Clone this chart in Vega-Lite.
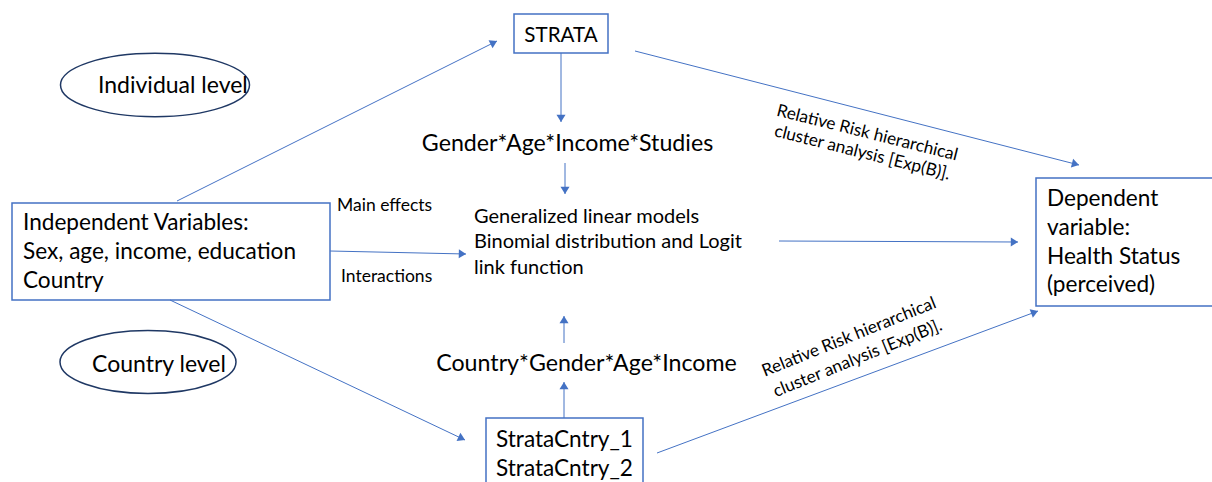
{
  "$schema": "https://vega.github.io/schema/vega-lite/v6.json",
  "width": 1212,
  "height": 482,
  "autosize": {"type": "fit", "contains": "padding"},
  "padding": 0,
  "background": "white",
  "config": {"view": {"stroke": null}, "text": {"font": "Lato", "color": "#000000"}},
  "datasets": {
    "boxes": [
      {"node": "STRATA", "x": 514, "x2": 608, "y": 14, "y2": 53},
      {"node": "Independent", "x": 12, "x2": 330, "y": 203, "y2": 300},
      {"node": "Dependent", "x": 1036, "x2": 1216, "y": 178, "y2": 306},
      {"node": "StrataCntry", "x": 486, "x2": 643, "y": 418, "y2": 490}
    ],
    "ellipses": [
      {"node": "Individual level", "x": 155, "y": 85},
      {"node": "Country level", "x": 148, "y": 362}
    ],
    "arrows": [
      {"from": "Independent", "to": "STRATA", "x": 177, "y": 201, "x2": 497, "y2": 41},
      {"from": "STRATA", "to": "Gender", "x": 561, "y": 53, "x2": 561, "y2": 122},
      {"from": "STRATA", "to": "Dependent", "x": 635, "y": 51, "x2": 1079, "y2": 165},
      {"from": "Gender", "to": "GLM", "x": 565, "y": 163, "x2": 565, "y2": 194},
      {"from": "Independent", "to": "GLM", "x": 330, "y": 251, "x2": 466, "y2": 254},
      {"from": "GLM", "to": "Dependent", "x": 779, "y": 241, "x2": 1018, "y2": 242},
      {"from": "Independent", "to": "StrataCntry", "x": 170, "y": 300, "x2": 465, "y2": 440},
      {"from": "Country", "to": "GLM", "x": 564, "y": 343, "x2": 564, "y2": 316},
      {"from": "StrataCntry", "to": "Country", "x": 564, "y": 418, "x2": 564, "y2": 382},
      {"from": "StrataCntry", "to": "Dependent", "x": 657, "y": 453, "x2": 1038, "y2": 311}
    ],
    "labels": [
      {"kind": "level", "text": "Individual level", "x": 98, "y": 92.5},
      {"kind": "level", "text": "Country level", "x": 92, "y": 372},
      {"kind": "box", "text": "STRATA", "x": 561, "y": 41.5},
      {"kind": "formula", "text": "Gender*Age*Income*Studies", "x": 567.5, "y": 150.5},
      {"kind": "formula", "text": "Country*Gender*Age*Income", "x": 586.5, "y": 371},
      {"kind": "edge", "text": "Main effects", "x": 337, "y": 210.5},
      {"kind": "edge", "text": "Interactions", "x": 341, "y": 281.5},
      {"kind": "model", "text": "Generalized linear models\nBinomial distribution and Logit\nlink function", "x": 474, "y": 222.5},
      {"kind": "block", "text": "Independent Variables:\nSex, age, income, education\nCountry", "x": 23, "y": 230},
      {"kind": "block", "text": "Dependent\nvariable:\nHealth Status\n(perceived)", "x": 1047, "y": 206},
      {"kind": "block", "text": "StrataCntry_1\nStrataCntry_2", "x": 496, "y": 447},
      {"kind": "riskUp", "text": "Relative Risk hierarchical\ncluster analysis [Exp(B)].", "x": 866, "y": 138},
      {"kind": "riskDown", "text": "Relative Risk hierarchical\ncluster analysis [Exp(B)].", "x": 851, "y": 342}
    ]
  },
  "encoding": {
    "x": {"field": "x", "type": "quantitative", "axis": null, "scale": {"domain": [0, 1212], "nice": false, "zero": false}},
    "y": {"field": "y", "type": "quantitative", "axis": null, "scale": {"domain": [0, 482], "nice": false, "zero": false, "reverse": true}}
  },
  "layer": [
    {
      "data": {"name": "boxes"},
      "mark": {"type": "rect", "fill": "white", "fillOpacity": 0, "stroke": "#4472C4", "strokeWidth": 1.5, "clip": true},
      "encoding": {"x2": {"field": "x2"}, "y2": {"field": "y2"}}
    },
    {
      "data": {"name": "ellipses"},
      "transform": [{"filter": "datum.node === 'Individual level'"}],
      "mark": {"type": "point", "shape": "M -1 0 A 1 0.335 0 1 0 1 0 A 1 0.335 0 1 0 -1 0 Z", "size": 35721, "filled": false, "color": "#1F3864", "strokeWidth": 1.5, "opacity": 1}
    },
    {
      "data": {"name": "ellipses"},
      "transform": [{"filter": "datum.node === 'Country level'"}],
      "mark": {"type": "point", "shape": "M -1 0 A 1 0.358 0 1 0 1 0 A 1 0.358 0 1 0 -1 0 Z", "size": 30976, "filled": false, "color": "#1F3864", "strokeWidth": 1.5, "opacity": 1}
    },
    {
      "data": {"name": "arrows"},
      "mark": {"type": "rule", "color": "#4472C4", "strokeWidth": 1},
      "encoding": {"x2": {"field": "x2"}, "y2": {"field": "y2"}}
    },
    {
      "data": {"name": "arrows"},
      "transform": [{"calculate": "atan2(datum.x2 - datum.x, datum.y - datum.y2) * 180 / PI", "as": "heading"}],
      "mark": {"type": "point", "shape": "M 0 0 L -0.5 0.8 L 0.5 0.8 Z", "size": 324, "filled": true, "color": "#4472C4", "opacity": 1, "strokeWidth": 0},
      "encoding": {
        "x": {"field": "x2", "type": "quantitative"},
        "y": {"field": "y2", "type": "quantitative"},
        "angle": {"field": "heading", "type": "quantitative", "scale": null}
      }
    },
    {
      "data": {"name": "labels"},
      "transform": [{"filter": "datum.kind === 'level'"}],
      "mark": {"type": "text", "align": "left", "baseline": "alphabetic", "fontSize": 23},
      "encoding": {"text": {"field": "text"}}
    },
    {
      "data": {"name": "labels"},
      "transform": [{"filter": "datum.kind === 'box'"}],
      "mark": {"type": "text", "align": "center", "baseline": "alphabetic", "fontSize": 20.6},
      "encoding": {"text": {"field": "text"}}
    },
    {
      "data": {"name": "labels"},
      "transform": [{"filter": "datum.kind === 'formula'"}],
      "mark": {"type": "text", "align": "center", "baseline": "alphabetic", "fontSize": 23.2},
      "encoding": {"text": {"field": "text"}}
    },
    {
      "data": {"name": "labels"},
      "transform": [{"filter": "datum.kind === 'edge'"}],
      "mark": {"type": "text", "align": "left", "baseline": "alphabetic", "fontSize": 17.5},
      "encoding": {"text": {"field": "text"}}
    },
    {
      "data": {"name": "labels"},
      "transform": [{"filter": "datum.kind === 'model'"}],
      "mark": {"type": "text", "align": "left", "baseline": "alphabetic", "fontSize": 20, "lineBreak": "\n", "lineHeight": 25.7},
      "encoding": {"text": {"field": "text"}}
    },
    {
      "data": {"name": "labels"},
      "transform": [{"filter": "datum.kind === 'block'"}],
      "mark": {"type": "text", "align": "left", "baseline": "alphabetic", "fontSize": 22.6, "lineBreak": "\n", "lineHeight": 28.8},
      "encoding": {"text": {"field": "text"}}
    },
    {
      "data": {"name": "labels"},
      "transform": [{"filter": "datum.kind === 'riskUp'"}],
      "mark": {"type": "text", "align": "center", "baseline": "alphabetic", "fontSize": 17.2, "lineBreak": "\n", "lineHeight": 20.5, "angle": 14},
      "encoding": {"text": {"field": "text"}}
    },
    {
      "data": {"name": "labels"},
      "transform": [{"filter": "datum.kind === 'riskDown'"}],
      "mark": {"type": "text", "align": "center", "baseline": "alphabetic", "fontSize": 17.2, "lineBreak": "\n", "lineHeight": 23, "angle": -22},
      "encoding": {"text": {"field": "text"}}
    }
  ]
}
